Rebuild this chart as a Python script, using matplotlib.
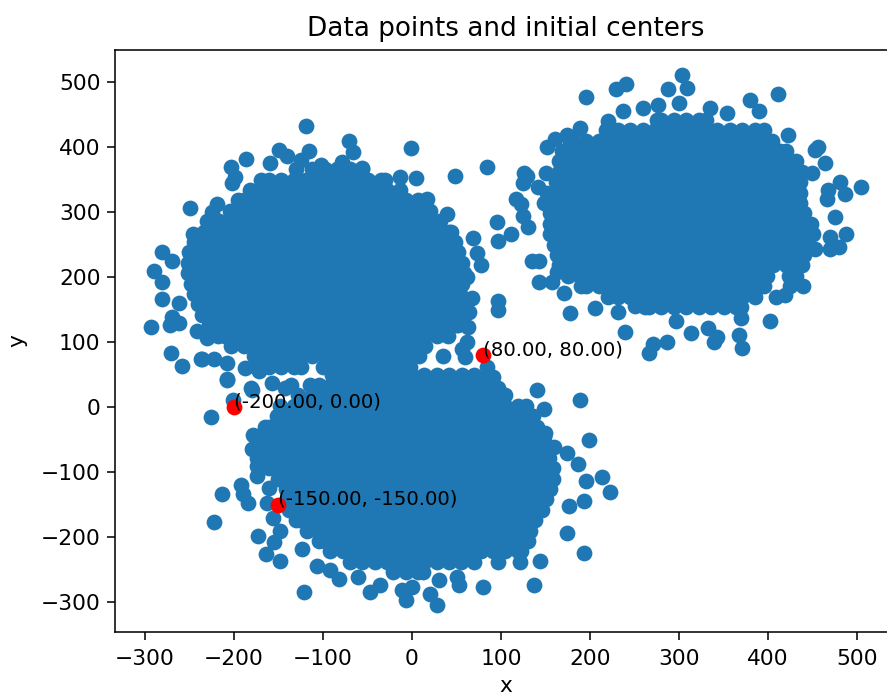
import os

os.environ.setdefault("MPLCONFIGDIR", "/tmp/kmeans-matplotlib")

import matplotlib

matplotlib.use("Agg")
import matplotlib.pyplot as plt

blob_a_rows = {
    366: [-130, -112, -98, -84, -70, -56],
    350: [-170, -161, -147, -133, -119, -105, -91, -77, -63, -49, -35, -30],
    334: [-182, -168, -154, -140, -126, -112, -98, -84, -70, -56, -42, -28, -14],
    318: [-195, -189, -175, -161, -147, -133, -119, -105, -91, -77, -63, -49, -35, -21, -7, 7],
    302: [-205, -196, -182, -168, -154, -140, -126, -112, -98, -84, -70, -56, -42, -28, -14, 0, 14, 20],
    286: [-222, -217, -203, -189, -175, -161, -147, -133, -119, -105, -91, -77, -63, -49, -35, -21, -7, 7, 21, 32],
    270: [-234, -224, -210, -196, -182, -168, -154, -140, -126, -112, -98, -84, -70, -56, -42, -28, -14, 0, 14, 28, 42, 44],
    254: [-245, -231, -217, -203, -189, -175, -161, -147, -133, -119, -105, -91, -77, -63, -49, -35, -21, -7, 7, 21, 35, 48],
    238: [-250, -238, -224, -210, -196, -182, -168, -154, -140, -126, -112, -98, -84, -70, -56, -42, -28, -14, 0, 14, 28, 42, 52],
    222: [-252, -245, -231, -217, -203, -189, -175, -161, -147, -133, -119, -105, -91, -77, -63, -49, -35, -21, -7, 7, 21, 35, 49, 56],
    206: [-252, -238, -224, -210, -196, -182, -168, -154, -140, -126, -112, -98, -84, -70, -56, -42, -28, -14, 0, 14, 28, 42, 56, 58],
    190: [-248, -245, -231, -217, -203, -189, -175, -161, -147, -133, -119, -105, -91, -77, -63, -49, -35, -21, -7, 7, 21, 35, 49, 56],
    174: [-245, -238, -224, -210, -196, -182, -168, -154, -140, -126, -112, -98, -84, -70, -56, -42, -28, -14, 0, 14, 28, 42, 54],
    158: [-240, -231, -217, -203, -189, -175, -161, -147, -133, -119, -105, -91, -77, -63, -49, -35, -21, -7, 7, 21, 35, 49, 54],
    142: [-236, -224, -210, -196, -182, -168, -154, -140, -126, -112, -98, -84, -70, -56, -42, -28, -14, 0, 14, 28, 42, 54],
    126: [-228, -217, -203, -189, -175, -161, -147, -133, -119, -105, -91, -77, -63, -49, -35, -21, -7, 7, 21, 35, 49, 52],
    110: [-218, -210, -196, -182, -168, -154, -140, -126, -112, -98, -84, -70, -56, -42, -28, -14, 0, 14, 28, 40],
    94: [-203, -189, -175, -161, -147, -133, -119, -105, -91, -77, -63, -49, -35, -21, -7, 7, 15],
    78: [-178, -168, -154, -140, -126, -112, -98, -84, -70, -56, -42, -28, -14, 0, 8],
    62: [-175, -161, -147, -133, -125, -100, -91, -77, -63, -49, -35, -21, -7, -2],
}
blob_b_rows = {
    442: [275, 280, 294, 308, 322, 330],
    426: [218, 231, 245, 259, 273, 287, 301, 315, 329, 343, 357, 371, 385, 395],
    410: [178, 182, 196, 210, 224, 238, 252, 266, 280, 294, 308, 322, 336, 350, 364, 378, 392, 405],
    394: [168, 175, 189, 203, 217, 231, 245, 259, 273, 287, 301, 315, 329, 343, 357, 371, 385, 399, 413, 420],
    378: [165, 168, 182, 196, 210, 224, 238, 252, 266, 280, 294, 308, 322, 336, 350, 364, 378, 392, 406, 420, 432],
    362: [165, 175, 189, 203, 217, 231, 245, 259, 273, 287, 301, 315, 329, 343, 357, 371, 385, 399, 413, 427, 438],
    346: [162, 168, 182, 196, 210, 224, 238, 252, 266, 280, 294, 308, 322, 336, 350, 364, 378, 392, 406, 420, 434, 436],
    330: [152, 161, 175, 189, 203, 217, 231, 245, 259, 273, 287, 301, 315, 329, 343, 357, 371, 385, 399, 413, 427, 436],
    314: [148, 154, 168, 182, 196, 210, 224, 238, 252, 266, 280, 294, 308, 322, 336, 350, 364, 378, 392, 406, 420, 434, 436],
    298: [155, 161, 175, 189, 203, 217, 231, 245, 259, 273, 287, 301, 315, 329, 343, 357, 371, 385, 399, 413, 427, 440],
    282: [155, 168, 182, 196, 210, 224, 238, 252, 266, 280, 294, 308, 322, 336, 350, 364, 378, 392, 406, 420, 434, 448],
    266: [155, 161, 175, 189, 203, 217, 231, 245, 259, 273, 287, 301, 315, 329, 343, 357, 371, 385, 399, 413, 427, 441, 450],
    250: [160, 168, 182, 196, 210, 224, 238, 252, 266, 280, 294, 308, 322, 336, 350, 364, 378, 392, 406, 420, 434, 442],
    234: [163, 175, 189, 203, 217, 231, 245, 259, 273, 287, 301, 315, 329, 343, 357, 371, 385, 399, 413, 427, 440],
    218: [165, 168, 182, 196, 210, 224, 238, 252, 266, 280, 294, 308, 322, 336, 350, 364, 378, 392, 406, 420, 434, 438],
    202: [175, 189, 203, 217, 231, 245, 259, 273, 287, 301, 315, 329, 343, 357, 371, 385, 399, 424, 432],
    186: [190, 196, 210, 224, 238, 252, 266, 280, 294, 308, 322, 336, 350, 364, 378, 392, 395, 425],
    170: [220, 231, 245, 259, 273, 287, 301, 315, 329, 343, 357, 371, 385],
    154: [262, 266, 280, 294, 308, 322, 336, 350, 364, 370],
}
blob_c_rows = {
    50: [-90, -84, -70, -56, -42, -28, -14, 0, 14, 28, 42, 56, 70, 84],
    34: [-115, -105, -91, -77, -63, -49, -35, -21, -7, 7, 21, 35, 49, 63, 77, 91],
    18: [-128, -112, -98, -84, -70, -56, -42, -28, -14, 0, 14, 28, 42, 56, 70, 84, 98, 105],
    2: [-148, -133, -119, -105, -91, -77, -63, -49, -35, -21, -7, 7, 21, 35, 49, 63, 77, 91, 105, 119, 128],
    -14: [-152, -140, -126, -112, -98, -84, -70, -56, -42, -28, -14, 0, 14, 28, 42, 56, 70, 84, 98, 112, 126, 136],
    -30: [-165, -161, -147, -133, -119, -105, -91, -77, -63, -49, -35, -21, -7, 7, 21, 35, 49, 63, 77, 91, 105, 119, 133, 140],
    -46: [-175, -168, -154, -140, -126, -112, -98, -84, -70, -56, -42, -28, -14, 0, 14, 28, 42, 56, 70, 84, 98, 112, 126, 140, 148],
    -62: [-175, -161, -147, -133, -119, -105, -91, -77, -63, -49, -35, -21, -7, 7, 21, 35, 49, 63, 77, 91, 105, 119, 133, 147, 152],
    -78: [-174, -168, -154, -140, -126, -112, -98, -84, -70, -56, -42, -28, -14, 0, 14, 28, 42, 56, 70, 84, 98, 112, 126, 140, 154],
    -94: [-170, -161, -147, -133, -119, -105, -91, -77, -63, -49, -35, -21, -7, 7, 21, 35, 49, 63, 77, 91, 105, 119, 133, 147, 158],
    -110: [-150, -140, -126, -112, -98, -84, -70, -56, -42, -28, -14, 0, 14, 28, 42, 56, 70, 84, 98, 112, 126, 140, 154, 158],
    -126: [-142, -133, -119, -105, -91, -77, -63, -49, -35, -21, -7, 7, 21, 35, 49, 63, 77, 91, 105, 119, 133, 147, 155],
    -142: [-140, -126, -112, -98, -84, -70, -56, -42, -28, -14, 0, 14, 28, 42, 56, 70, 84, 98, 112, 126, 140, 150],
    -158: [-138, -133, -119, -105, -91, -77, -63, -49, -35, -21, -7, 7, 21, 35, 49, 63, 77, 91, 105, 119, 133, 146],
    -174: [-130, -126, -112, -98, -84, -70, -56, -42, -28, -14, 0, 14, 28, 42, 56, 70, 84, 98, 112, 126, 138],
    -190: [-118, -105, -91, -77, -63, -49, -35, -21, -7, 7, 21, 35, 49, 63, 77, 91, 105, 119, 133],
    -206: [-104, -98, -84, -70, -56, -42, -28, -14, 0, 14, 28, 42, 56, 70, 84, 98, 112, 126, 130],
    -222: [-92, -77, -63, -49, -35, -21, -7, 7, 21, 35, 49, 63, 77, 91, 105, 119, 122],
    -238: [-70, -56, -42, -28, -14, 0, 14, 28, 42, 55, 70, 97, 121],
    -254: [-21, -7, 7, 12],
}

# loose points around the edges of each cloud
outer_a = [
    (-119, 432), (-71, 410), (-66, 393), (-116, 394), (-1, 399), (84, 370), (48, 355), (-187, 382),
    (-203, 370), (-199, 354), (-202, 345), (-149, 395), (-140, 386), (-160, 375), (-13, 354), (4, 353),
    (-56, 368), (-79, 377), (-102, 372), (-125, 380), (-249, 307), (-219, 312), (-225, 300), (-230, 286),
    (-246, 267), (-281, 238), (-270, 225), (-290, 209), (-281, 192), (-281, 166), (-262, 160), (-270, 139),
    (-272, 126), (-293, 123), (-262, 130), (-271, 83), (-258, 63), (-237, 74), (-222, 74), (-208, 68),
    (-208, 43), (-242, 117), (-230, 106), (-181, 29), (-157, 37), (68, 260), (73, 237), (78, 218),
    (62, 200), (67, 168), (64, 146), (63, 123), (62, 100), (56, 89), (59, 77), (35, 78),
    (96, 285), (111, 267), (97, 255), (117, 321), (97, 163), (97, 149), (39, 297), (17, 321),
    (-136, 34), (-143, 29), (-188, 60), (-172, 55),
]
outer_b = [
    (303, 511), (309, 491), (288, 489), (241, 497), (229, 489), (196, 477), (411, 482), (380, 472),
    (390, 455), (354, 452), (335, 460), (300, 468), (276, 465), (260, 461), (237, 455), (220, 441),
    (189, 429), (174, 418), (161, 412), (152, 400), (422, 418), (456, 400), (453, 395), (464, 375),
    (449, 361), (481, 347), (504, 338), (487, 328), (467, 334), (466, 321), (475, 292), (488, 266),
    (470, 262), (480, 246), (470, 243), (453, 243), (439, 186), (419, 172), (409, 169), (402, 132),
    (370, 137), (367, 111), (371, 91), (339, 100), (343, 108), (314, 114), (333, 122), (297, 132),
    (286, 100), (271, 97), (266, 83), (239, 115), (178, 145), (206, 152), (231, 146), (251, 155),
    (171, 175), (143, 192), (157, 192), (135, 225), (143, 225), (130, 277), (125, 294), (122, 312),
    (142, 338), (125, 345), (126, 360), (129, 355), (151, 360), (163, 208),
]
outer_c = [
    (141, 27), (148, -3), (189, 11), (199, -50), (149, -40), (160, -62), (174, -70), (187, -87),
    (196, -114), (213, -108), (222, -130), (193, -145), (176, -152), (174, -193), (193, -225), (144, -237),
    (137, -274), (80, -277), (53, -274), (50, -261), (30, -266), (20, -288), (28, -305), (-7, -297),
    (-11, -281), (0, -277), (-47, -285), (-36, -274), (-121, -285), (-82, -265), (-61, -262), (-107, -244),
    (-92, -251), (-124, -218), (-148, -237), (-164, -226), (-155, -207), (-173, -198), (-222, -177), (-148, -191),
    (-156, -171), (-163, -148), (-161, -125), (-184, -148), (-190, -134), (-192, -120), (-213, -133), (-174, -106),
    (-174, -91), (-180, -65), (-179, -43), (-154, -31), (-226, -15), (-201, 11), (-208, 42), (-180, 27),
    (-236, 74), (84, 62), (91, 46), (97, 29),
]

center_x = [-200, -150, 80]
center_y = [0, -150, 80]


def collect_points():
    xs, ys = [], []
    for rows in (blob_a_rows, blob_b_rows, blob_c_rows):
        for y, row in rows.items():
            xs.extend(row)
            ys.extend([y] * len(row))
    for outer in (outer_a, outer_b, outer_c):
        for x, y in outer:
            xs.append(x)
            ys.append(y)
    return xs, ys


def main():
    xs, ys = collect_points()

    # the right edge of the axes runs past the canvas, as in the original crop
    fig = plt.figure(figsize=(887 / 140, 695 / 140), dpi=140)
    ax = fig.add_axes([115 / 887, 63 / 695, 781 / 887, 582 / 695])
    ax.scatter(xs, ys, s=66, linewidths=0)
    ax.scatter(center_x, center_y, c="red", s=66, linewidths=0)
    for x, y in zip(center_x, center_y):
        ax.text(x, y, f"({x:.2f}, {y:.2f})", fontsize=10.2)

    ax.set_xlim(-333.7, 543.8)
    ax.set_ylim(-346, 549.5)
    ax.tick_params(labelsize=11.2, length=3.9)
    ax.tick_params(axis="x", pad=5)
    ax.set_title("Data points and initial centers", fontsize=13.5, pad=7)
    ax.set_xlabel("x", fontsize=11.2, labelpad=3.5)
    ax.set_ylabel("y", fontsize=11.2, labelpad=7)
    fig.savefig("out.png", dpi=140)


if __name__ == "__main__":
    main()
